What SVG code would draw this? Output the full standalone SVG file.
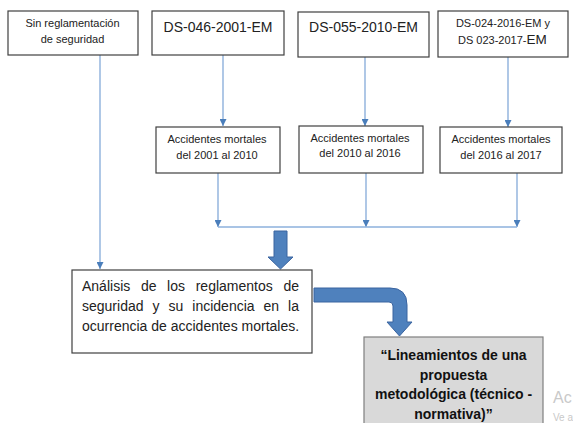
<svg xmlns="http://www.w3.org/2000/svg" width="573" height="423" viewBox="0 0 573 423">
<defs>
<style>
.box{fill:#fff;stroke:#404040;stroke-width:1.2}
.gbox{fill:#d9d9d9;stroke:#7f7f7f;stroke-width:1.2}
.t{font-family:"Liberation Sans",Arial,sans-serif;fill:#222}
.s11{font-size:11px}
.s14{font-size:14px}
.c{text-anchor:middle}
.b{font-weight:bold;fill:#111}
.con{stroke:#8db0dc;stroke-width:1.4;fill:none}
.big{fill:#4f81bd;stroke:#3a64a0;stroke-width:1}
.wm{font-family:"Liberation Sans",Arial,sans-serif;fill:#c9c9c9}
</style>
<marker id="ah" viewBox="0 0 10 10" refX="10" refY="5" markerWidth="7" markerHeight="7" markerUnits="userSpaceOnUse" orient="auto">
<path d="M0,0 L10,5 L0,10 Z" fill="#4a7ebb"/>
</marker>
</defs>
<rect width="573" height="423" fill="#fff"/>

<g id="connectors">
<line class="con" x1="100" y1="55" x2="100" y2="269" marker-end="url(#ah)"/>
<line class="con" x1="223" y1="55" x2="223" y2="126" marker-end="url(#ah)"/>
<line class="con" x1="365" y1="57" x2="365" y2="126" marker-end="url(#ah)"/>
<line class="con" x1="508" y1="57" x2="508" y2="127" marker-end="url(#ah)"/>
<line class="con" x1="218" y1="173" x2="218" y2="227" marker-end="url(#ah)"/>
<line class="con" x1="366" y1="173" x2="366" y2="227" marker-end="url(#ah)"/>
<line class="con" x1="517" y1="173" x2="517" y2="227" marker-end="url(#ah)"/>
<line class="con" x1="218" y1="227" x2="517" y2="227"/>
<path class="big" d="M274,231 L287,231 L287,257 L293,257 L280.5,269 L268,257 L274,257 Z"/>
<path class="big" d="M314,288 L390,288 Q407,288 407,305 L407,322 L412,322 L399.5,336 L387,322 L393,322 L393,306 Q393,302 389,302 L314,302 Z"/>
</g>

<g id="n-sin">
<rect class="box" x="8" y="11" width="130" height="44"/>
<text class="t s11 c" x="72.5" y="27">Sin reglamentación</text>
<text class="t s11 c" x="72.5" y="43">de seguridad</text>
</g>
<g id="n-ds046">
<rect class="box" x="152" y="11" width="132" height="44"/>
<text class="t s14 c" x="218" y="32">DS-046-2001-EM</text>
</g>
<g id="n-ds055">
<rect class="box" x="298" y="12" width="131" height="45"/>
<text class="t s14 c" x="363.5" y="32">DS-055-2010-EM</text>
</g>
<g id="n-ds024">
<rect class="box" x="438" y="11" width="130" height="46"/>
<text class="t s11 c" x="503" y="27">DS-024-2016-EM y</text>
<text class="t s11" x="458" y="44">DS 023-2017-<tspan style="font-size:13.5px">EM</tspan></text>
</g>

<g id="n-acc1">
<rect class="box" x="156" y="127" width="124" height="46"/>
<text class="t s11 c" x="217" y="143">Accidentes mortales</text>
<text class="t s11 c" x="217" y="159">del 2001 al 2010</text>
</g>
<g id="n-acc2">
<rect class="box" x="299" y="126" width="124" height="47"/>
<text class="t s11 c" x="360" y="142">Accidentes mortales</text>
<text class="t s11 c" x="360" y="157">del 2010 al 2016</text>
</g>
<g id="n-acc3">
<rect class="box" x="440" y="127" width="122" height="46"/>
<text class="t s11 c" x="501" y="143">Accidentes mortales</text>
<text class="t s11 c" x="501" y="159">del 2016 al 2017</text>
</g>

<g id="n-analisis">
<rect class="box" x="72" y="270" width="240" height="83"/>
<text class="t s14" y="291"><tspan x="82">Análisis</tspan><tspan x="140.9">de</tspan><tspan x="167.1">los</tspan><tspan x="195.7">reglamentos</tspan><tspan x="283.4">de</tspan></text>
<text class="t s14" y="311"><tspan x="82">seguridad</tspan><tspan x="152.5">y</tspan><tspan x="168.5">su</tspan><tspan x="192.3">incidencia</tspan><tspan x="263.5">en</tspan><tspan x="288.1">la</tspan></text>
<text class="t s14" x="82" y="331">ocurrencia de accidentes mortales.</text>
</g>

<g id="n-lineamientos">
<rect class="gbox" x="364" y="337" width="179" height="95"/>
<text class="t s14 c b" x="453.5" y="360">“Lineamientos de una</text>
<text class="t s14 c b" x="453.5" y="379.5">propuesta</text>
<text class="t s14 c b" x="453.5" y="399">metodológica (técnico -</text>
<text class="t s14 c b" x="453.5" y="418.5">normativa)”</text>
</g>

<text class="wm" x="553" y="403" style="font-size:16px">Ac</text>
<text class="wm" x="553" y="421" style="font-size:10px">Ve a</text>
</svg>
